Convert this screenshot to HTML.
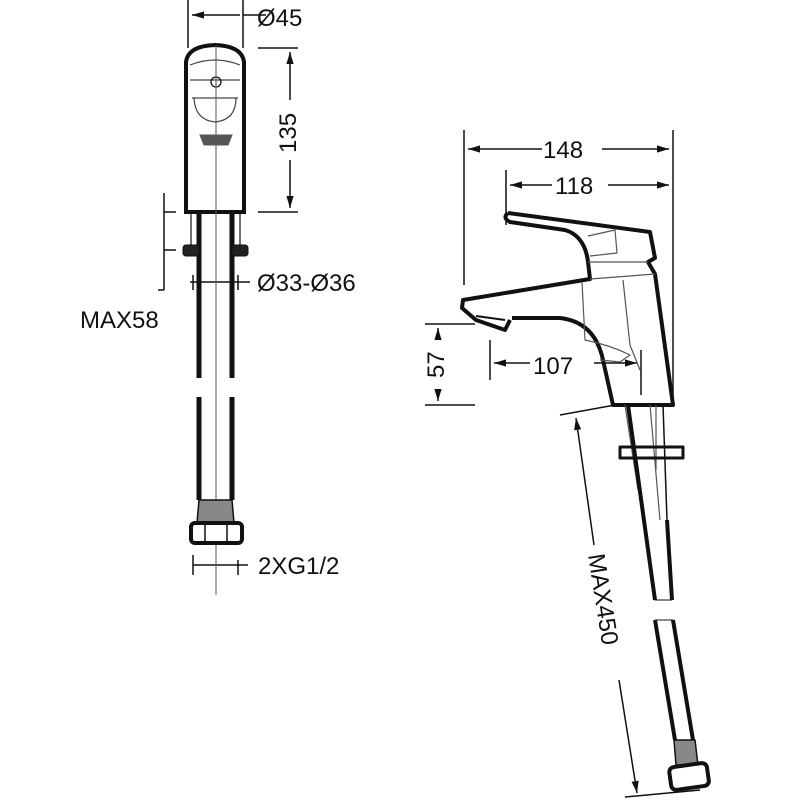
<!DOCTYPE html>
<html><head><meta charset="utf-8"><style>
html,body{margin:0;padding:0;background:#fff;width:800px;height:800px;overflow:hidden}
text{font-family:"Liberation Sans",sans-serif;fill:#111;font-size:24px}
</style></head><body>
<svg width="800" height="800" viewBox="0 0 800 800" xmlns="http://www.w3.org/2000/svg">
<defs>
<marker id="a" viewBox="0 0 10 6" refX="10" refY="3" markerWidth="8" markerHeight="5" orient="auto-start-reverse"><path d="M0,0L10,3L0,6z" fill="#111"/></marker>
</defs>
<g stroke="#111" fill="none" stroke-width="1.5">
<line x1="188" y1="0" x2="188" y2="48"/>
<line x1="243" y1="0" x2="243" y2="48"/>
<line x1="192" y1="15" x2="240" y2="15" marker-start="url(#a)"/>
<line x1="243" y1="15" x2="266" y2="15"/>
<line x1="258" y1="48" x2="298" y2="48"/>
<line x1="258" y1="212" x2="298" y2="212"/>
<line x1="290" y1="52" x2="290" y2="100" marker-start="url(#a)"/>
<line x1="290" y1="160" x2="290" y2="208" marker-end="url(#a)"/>
<line x1="164" y1="193" x2="164" y2="290"/>
<line x1="158" y1="290" x2="164" y2="290"/>
<line x1="164" y1="212" x2="176" y2="212"/>
<line x1="164" y1="250" x2="176" y2="250"/>
<line x1="190" y1="282" x2="250" y2="282"/>
<line x1="193" y1="275" x2="193" y2="290"/>
<line x1="238" y1="275" x2="238" y2="290"/>
<line x1="193" y1="555" x2="193" y2="575"/>
<line x1="238" y1="560" x2="238" y2="575"/>
<line x1="193" y1="565" x2="248" y2="565"/>
</g>
<g stroke="#111" fill="none">
<path d="M186,212 L186,62 Q188,46 215,45 Q242,46 244,62 L244,212 Z" stroke-width="4"/>
<path d="M190,65 Q215,55 240,65 M190,80 L240,80 M192,98 L238,98 M194,98 Q195,120 215,122 Q236,120 236,98" stroke-width="1.2" stroke="#444"/>
<circle cx="216" cy="82" r="5" stroke-width="1.3"/>
<path d="M200,135 L232,135 L228,145 L204,145 Z" fill="#555" stroke="#555"/>
<line x1="216" y1="45" x2="216" y2="595" stroke-width="1" stroke="#555"/>
<line x1="199" y1="212" x2="199" y2="378" stroke-width="5"/>
<line x1="232" y1="212" x2="232" y2="378" stroke-width="5"/>
<line x1="191" y1="212" x2="191" y2="245" stroke-width="1.2"/>
<line x1="240" y1="212" x2="240" y2="245" stroke-width="1.2"/>
<rect x="183" y="245" width="16" height="11" rx="3" fill="#222"/>
<rect x="232" y="245" width="16" height="11" rx="3" fill="#222"/>
<line x1="199" y1="397" x2="199" y2="500" stroke-width="5"/>
<line x1="232" y1="397" x2="232" y2="500" stroke-width="5"/>
<path d="M199,500 L232,500 L234,523 L197,523 Z" fill="#888" stroke-width="1.5"/>
<rect x="191" y="523" width="51" height="20" rx="4" stroke-width="4" fill="#fff"/>
<line x1="205" y1="525" x2="205" y2="541" stroke-width="1.5"/>
<line x1="227" y1="525" x2="227" y2="541" stroke-width="1.5"/>
</g>
<text x="257" y="26">Ø45</text>
<text x="0" y="0" transform="translate(296,153) rotate(-90)">135</text>
<text x="257" y="291">Ø33-Ø36</text>
<text x="80" y="328">MAX58</text>
<text x="258" y="574">2XG1/2</text>

<g stroke="#111" fill="none" stroke-width="1.5">
<line x1="464" y1="130" x2="464" y2="285"/>
<line x1="673" y1="130" x2="673" y2="400"/>
<line x1="506" y1="170" x2="506" y2="225"/>
<line x1="468" y1="149" x2="542" y2="149" marker-start="url(#a)"/>
<line x1="602" y1="149" x2="669" y2="149" marker-end="url(#a)"/>
<line x1="510" y1="185" x2="552" y2="185" marker-start="url(#a)"/>
<line x1="608" y1="185" x2="669" y2="185" marker-end="url(#a)"/>
<line x1="425" y1="324" x2="475" y2="324"/>
<line x1="425" y1="405" x2="475" y2="405"/>
<line x1="438" y1="328" x2="438" y2="340" marker-start="url(#a)"/>
<line x1="438" y1="390" x2="438" y2="401" marker-end="url(#a)"/>
<line x1="490" y1="340" x2="490" y2="380"/>
<line x1="641" y1="350" x2="641" y2="395"/>
<line x1="494" y1="363" x2="530" y2="363" marker-start="url(#a)"/>
<line x1="594" y1="363" x2="637" y2="363" marker-end="url(#a)"/>
<line x1="560" y1="415" x2="615" y2="405"/>
<line x1="576" y1="418" x2="594" y2="545" marker-start="url(#a)"/>
<line x1="619" y1="680" x2="637" y2="793" marker-end="url(#a)"/>
<line x1="625" y1="797" x2="700" y2="790"/>
</g>
<text x="543" y="158">148</text>
<text x="555" y="194">118</text>
<text x="533" y="374">107</text>
<text x="0" y="0" transform="translate(444,378) rotate(-90)">57</text>
<text x="0" y="0" transform="translate(588,555) rotate(81)">MAX450</text>

<g stroke="#111" fill="none" stroke-linejoin="round">
<path d="M508,213 L650,232 L655,258 L648,262 L655,274 L673,405 L613,405 L603,360 Q595,322 560,318 L512,318" stroke-width="4"/>
<path d="M508,213 Q502,218 510,222 L565,230 Q585,236 588,262 L590,279 L463,300 L462,308 L476,320 L505,330 L510,320" stroke-width="4"/>
<path d="M476,316 L505,320" stroke-width="2"/>
<g stroke="#555" stroke-width="1.2">
<path d="M590,279 L655,274 M588,262 L648,262 M588,236 L615,230 L617,253 L590,256"/>
<path d="M582,282 L585,340 Q610,345 630,355 L620,362 L600,360 M623,280 L630,345 L640,370"/>
<path d="M625,405 L638,490 M650,405 L660,520 M656,405 L656,470"/>
</g>
<path d="M628,405 L655,600" stroke-width="4"/>
<path d="M667,520 L672,600" stroke-width="4"/>
<path d="M663,405 L667,520" stroke-width="1.5"/>
<path d="M620,447 L683,447 L683,458 L620,458 Z" stroke-width="3"/>
<line x1="655" y1="600" x2="672" y2="600" stroke-width="1"/>
<path d="M655,620 L675,740" stroke-width="4"/>
<path d="M673,620 L693,740" stroke-width="4"/>
<line x1="655" y1="620" x2="673" y2="620" stroke-width="1"/>
<path d="M674,740 L695,740 L698,765 L676,765 Z" fill="#888" stroke-width="1.5"/>
<rect x="670" y="765" width="38" height="23" rx="5" stroke-width="4" fill="#fff" transform="rotate(-8 689 776)"/>
</g>
</svg>
</body></html>
